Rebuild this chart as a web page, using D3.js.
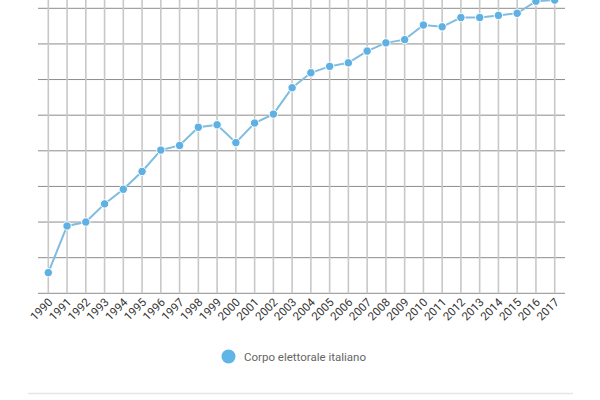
<!DOCTYPE html>
<html>
<head>
<meta charset="utf-8">
<script src="https://cdn.jsdelivr.net/npm/d3@7"></script>
<style>
  body { margin: 0; background: #fff; font-family: Roboto, "Noto Sans", sans-serif; }
  svg { display: block; }
</style>
</head>
<body>
<div id="chart"></div>
<script>
// Years on the x axis
const years = [1990, 1991, 1992, 1993, 1994, 1995, 1996, 1997, 1998, 1999,
  2000, 2001, 2002, 2003, 2004, 2005, 2006, 2007, 2008, 2009,
  2010, 2011, 2012, 2013, 2014, 2015, 2016, 2017];

// Corpo elettorale italiano (grid units x10)
const electorate = [5.8, 18.9, 20.0, 25.1, 29.2, 34.2, 40.2, 41.5, 46.6, 47.3,
  42.3, 47.8, 50.3, 57.7, 61.9, 63.7, 64.7, 68.0, 70.3, 71.2,
  75.3, 74.8, 77.4, 77.4, 78.0, 78.6, 82.0, 82.3];

const yTicks = [0, 10, 20, 30, 40, 50, 60, 70, 80, 90];
const seriesName = "Corpo elettorale italiano";

const width = 600, height = 400;

const svg = d3.select("#chart").append("svg")
    .attr("width", width)
    .attr("height", height);

const x = d3.scalePoint()
    .domain(years)
    .range([48.3, 554.7]);

// the top of the plot is cut off by the frame
const y = d3.scaleLinear()
    .domain([0, 80])
    .range([293.3, 8.3]);

const gridLeft = 38, gridRight = 565;
const plotTop = y(90);

// horizontal grid lines
svg.append("g")
    .selectAll("line")
    .data(yTicks)
    .enter().append("line")
    .attr("x1", gridLeft)
    .attr("x2", gridRight)
    .attr("y1", d => y(d))
    .attr("y2", d => y(d))
    .attr("stroke", "#8c8c8c")
    .attr("stroke-width", 1);

// vertical grid lines
svg.append("g")
    .selectAll("line")
    .data(years)
    .enter().append("line")
    .attr("x1", d => x(d))
    .attr("x2", d => x(d))
    .attr("y1", plotTop)
    .attr("y2", y(0))
    .attr("stroke", "#c8c8c8")
    .attr("stroke-width", 1.6);

// x labels rotated
svg.append("g")
    .selectAll("text")
    .data(years)
    .enter().append("text")
    .attr("transform", d => "translate(" + (x(d) + 5) + "," + 303 + ") rotate(-45)")
    .attr("text-anchor", "end")
    .attr("font-size", "11.5px")
    .attr("fill", "#333")
    .text(d => d);

// line
const line = d3.line()
    .x((d, i) => x(years[i]))
    .y(d => y(d));

svg.append("path")
    .datum(electorate)
    .attr("d", line)
    .attr("fill", "none")
    .attr("stroke", "#7fbde0")
    .attr("stroke-width", 2);

svg.append("g")
    .selectAll("circle")
    .data(electorate)
    .enter().append("circle")
    .attr("cx", (d, i) => x(years[i]))
    .attr("cy", d => y(d))
    .attr("r", 4.2)
    .attr("fill", "#5eb1e2")
    .attr("stroke", "#fff")
    .attr("stroke-width", 1);

// legend
const legend = svg.append("g");
legend.append("circle")
    .attr("cx", 228.5)
    .attr("cy", 356.5)
    .attr("r", 7)
    .attr("fill", "#5eb5e6");
legend.append("text")
    .attr("x", 244)
    .attr("y", 360.5)
    .attr("font-size", "11.5px")
    .attr("fill", "#666")
    .text(seriesName);

// bottom separator
svg.append("line")
    .attr("x1", 28)
    .attr("x2", 573)
    .attr("y1", 393.5)
    .attr("y2", 393.5)
    .attr("stroke", "#e6e6e6")
    .attr("stroke-width", 1.5);
</script>
</body>
</html>
